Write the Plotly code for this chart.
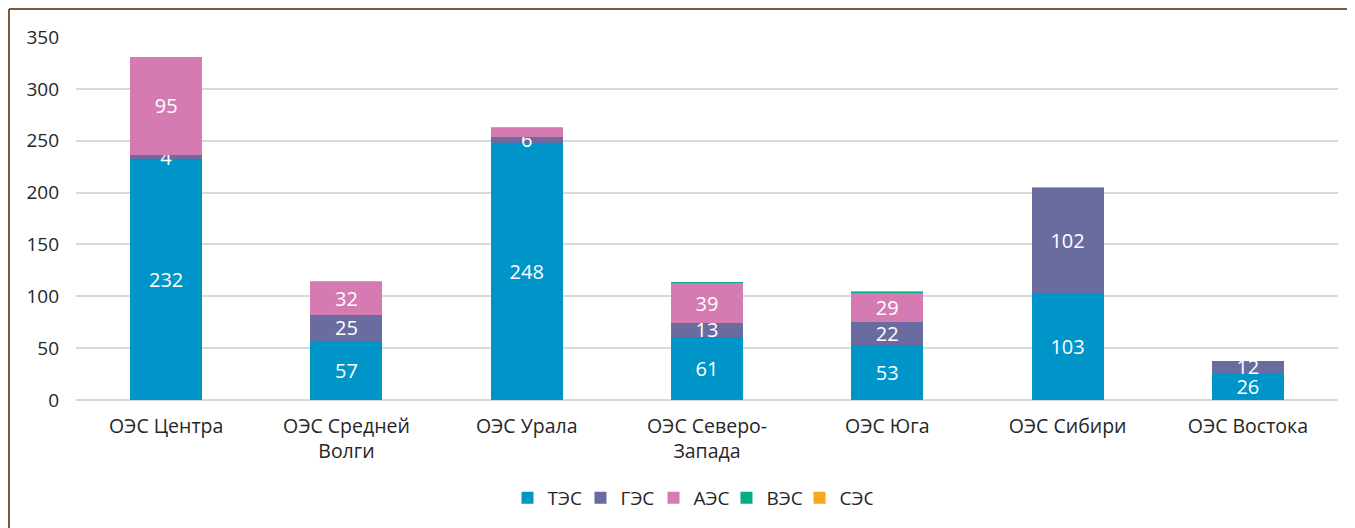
import plotly.graph_objects as go

categories = ["ОЭС Центра", "ОЭС Средней<br>Волги", "ОЭС Урала", "ОЭС Северо-<br>Запада",
              "ОЭС Юга", "ОЭС Сибири", "ОЭС Востока"]
series_names = ["ТЭС", "ГЭС", "АЭС", "ВЭС", "СЭС"]
tes = [232, 57, 248, 61, 53, 103, 26]
ges = [4, 25, 6, 13, 22, 102, 12]
aes = [95, 32, 8.5, 39, 29, 0, 0]
ves = [0, 0.5, 0.3, 0.4, 0.3, 0, 0]
ses = [0, 0.2, 0.2, 0, 0.4, 0.3, 0]
# which labels are shown in the reference
show_tes = [True] * 7
show_ges = [True] * 7
show_aes = [True, True, False, True, True, False, False]
y_ticks = [0, 50, 100, 150, 200, 250, 300, 350]

colors = ["#0095C9", "#6A6CA0", "#D47BB1", "#00B083", "#F5A81D"]
FONT = "Open Sans"

def labels(vals, show):
    return [f"{v:g}" if s and v else "" for v, s in zip(vals, show)]

fig = go.Figure()
all_series = [
    (tes, labels(tes, show_tes)),
    (ges, labels(ges, show_ges)),
    (aes, labels(aes, show_aes)),
    (ves, [""] * 7),
    (ses, [""] * 7),
]
for (vals, txt), name, col in zip(all_series, series_names, colors):
    fig.add_trace(go.Bar(
        x=categories, y=vals, name=name, marker=dict(color=col, line=dict(width=0)),
        text=txt, textposition="inside", insidetextanchor="middle", textangle=0,
        constraintext="none", cliponaxis=False,
        textfont=dict(color="white", size=20, family=FONT),
        hoverinfo="x+y+name",
    ))

# page body has an 8px margin: figure coordinates = page coordinates - 8
OFF = 8
W, H = 1355, 528
L, T = 76 - OFF, 37 - OFF
R = W - (1338 - OFF)
B = H - (400 - OFF)
pw, ph = W - L - R, H - T - B

def px_x(p):
    return (p - OFF - L) / pw

def px_y(p):
    return (H - B - (p - OFF)) / ph

fig.update_layout(
    barmode="stack", bargap=0.6,
    width=W, height=H,
    margin=dict(l=L, r=R, t=T, b=B, autoexpand=False),
    paper_bgcolor="white", plot_bgcolor="white",
    font=dict(family=FONT, size=19, color="#262626"),
    showlegend=True,
    legend=dict(orientation="h", x=px_x(690), xanchor="center",
                yref="container", y=1 - (498 - OFF) / H, yanchor="middle",
                font=dict(size=19, color="#262626"), traceorder="normal",
                itemwidth=30, itemsizing="constant", entrywidth=28, entrywidthmode="pixels"),
    xaxis=dict(showgrid=False, showline=False, ticks="", automargin=False,
               ticklabelstandoff=12, tickfont=dict(size=19.5, color="#262626")),
    yaxis=dict(range=[0, 350], tickvals=y_ticks, showgrid=True, gridcolor="#D9D9D9",
               gridwidth=1.5, zeroline=True, zerolinecolor="#D9D9D9", zerolinewidth=1.5,
               showline=False, ticks="", automargin=False, ticklabelstandoff=16,
               tickfont=dict(size=19, color="#262626")),
    shapes=[
        dict(type="line", xref="paper", yref="paper", x0=px_x(9), x1=px_x(W + 20),
             y0=px_y(9), y1=px_y(9), line=dict(color="#7E5A3C", width=2)),
        dict(type="line", xref="paper", yref="paper", x0=px_x(9), x1=px_x(9),
             y0=px_y(9), y1=px_y(H + 20), line=dict(color="#7E5A3C", width=2)),
    ],
)

fig.write_html("out.html")
